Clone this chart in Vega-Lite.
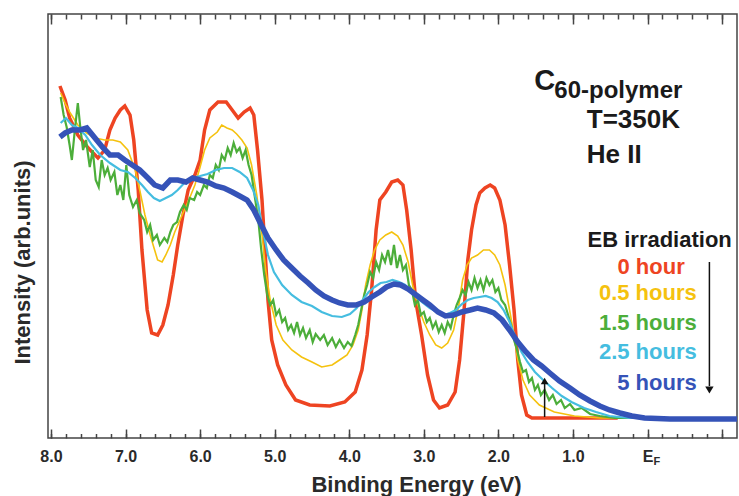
{
  "$schema": "https://vega.github.io/schema/vega-lite/v6.json",
  "width": 689,
  "height": 424,
  "autosize": {"type": "none"},
  "padding": {"left": 48, "top": 14, "right": 2, "bottom": 58},
  "background": "white",
  "config": {
    "view": {"stroke": "#444", "strokeWidth": 1.5},
    "font": "Liberation Sans, sans-serif",
    "text": {"font": "Liberation Sans, sans-serif", "fontWeight": "bold", "color": "#1a1a1a"},
    "axis": {"labelFont": "Liberation Sans, sans-serif", "titleFont": "Liberation Sans, sans-serif", "labelFontWeight": "bold", "titleFontWeight": "bold", "labelColor": "#2a2a2a", "titleColor": "#2a2a2a", "tickColor": "#444", "domain": false, "grid": false}
  },
  "resolve": {"axis": {"x": "independent", "y": "independent"}},
  "data": {"values": [{}]},
  "datasets": {
    "h0": [{"x":7.88,"y":352},{"x":7.81,"y":338},{"x":7.75,"y":320},{"x":7.64,"y":303},{"x":7.5,"y":290},{"x":7.37,"y":280},{"x":7.28,"y":288},{"x":7.21,"y":308},{"x":7.14,"y":320},{"x":7.07,"y":328},{"x":7.01,"y":332},{"x":6.94,"y":323},{"x":6.89,"y":298},{"x":6.83,"y":248},{"x":6.78,"y":188},{"x":6.71,"y":128},{"x":6.65,"y":105},{"x":6.57,"y":103},{"x":6.5,"y":113},{"x":6.43,"y":133},{"x":6.36,"y":163},{"x":6.3,"y":193},{"x":6.23,"y":223},{"x":6.16,"y":248},{"x":6.07,"y":263},{"x":6.0,"y":278},{"x":5.94,"y":308},{"x":5.87,"y":328},{"x":5.76,"y":336},{"x":5.65,"y":336},{"x":5.57,"y":328},{"x":5.49,"y":320},{"x":5.41,"y":326},{"x":5.33,"y":330},{"x":5.28,"y":323},{"x":5.23,"y":288},{"x":5.17,"y":238},{"x":5.13,"y":188},{"x":5.09,"y":138},{"x":5.04,"y":98},{"x":4.96,"y":73},{"x":4.85,"y":53},{"x":4.72,"y":38},{"x":4.53,"y":33},{"x":4.26,"y":32},{"x":4.06,"y":36},{"x":3.92,"y":46},{"x":3.83,"y":68},{"x":3.76,"y":103},{"x":3.7,"y":148},{"x":3.64,"y":208},{"x":3.59,"y":238},{"x":3.51,"y":246},{"x":3.43,"y":256},{"x":3.35,"y":258},{"x":3.28,"y":253},{"x":3.23,"y":228},{"x":3.17,"y":188},{"x":3.11,"y":138},{"x":3.03,"y":103},{"x":2.95,"y":63},{"x":2.87,"y":38},{"x":2.79,"y":30},{"x":2.68,"y":33},{"x":2.58,"y":46},{"x":2.52,"y":78},{"x":2.46,"y":128},{"x":2.41,"y":178},{"x":2.36,"y":208},{"x":2.3,"y":233},{"x":2.25,"y":245},{"x":2.18,"y":250},{"x":2.11,"y":253},{"x":2.05,"y":250},{"x":1.98,"y":238},{"x":1.91,"y":213},{"x":1.85,"y":173},{"x":1.79,"y":128},{"x":1.74,"y":78},{"x":1.69,"y":43},{"x":1.62,"y":23},{"x":1.55,"y":20},{"x":1.0,"y":20},{"x":0.4,"y":20}],
    "h05": [{"x":7.87,"y":345},{"x":7.8,"y":333},{"x":7.75,"y":326},{"x":7.64,"y":313},{"x":7.52,"y":305},{"x":7.41,"y":300},{"x":7.28,"y":298},{"x":7.17,"y":298},{"x":7.07,"y":296},{"x":6.97,"y":288},{"x":6.87,"y":268},{"x":6.81,"y":248},{"x":6.74,"y":223},{"x":6.67,"y":203},{"x":6.61,"y":188},{"x":6.57,"y":178},{"x":6.51,"y":176},{"x":6.46,"y":183},{"x":6.4,"y":193},{"x":6.34,"y":206},{"x":6.27,"y":218},{"x":6.2,"y":230},{"x":6.14,"y":240},{"x":6.07,"y":253},{"x":6.0,"y":271},{"x":5.94,"y":288},{"x":5.87,"y":300},{"x":5.77,"y":306},{"x":5.71,"y":313},{"x":5.64,"y":310},{"x":5.57,"y":308},{"x":5.51,"y":304},{"x":5.44,"y":298},{"x":5.37,"y":290},{"x":5.31,"y":273},{"x":5.24,"y":243},{"x":5.17,"y":203},{"x":5.12,"y":168},{"x":5.06,"y":138},{"x":4.98,"y":113},{"x":4.89,"y":98},{"x":4.77,"y":88},{"x":4.64,"y":81},{"x":4.5,"y":76},{"x":4.37,"y":71},{"x":4.23,"y":73},{"x":4.13,"y":78},{"x":4.03,"y":83},{"x":3.95,"y":93},{"x":3.88,"y":108},{"x":3.83,"y":128},{"x":3.78,"y":153},{"x":3.72,"y":173},{"x":3.66,"y":188},{"x":3.59,"y":198},{"x":3.51,"y":203},{"x":3.43,"y":206},{"x":3.35,"y":202},{"x":3.28,"y":193},{"x":3.21,"y":176},{"x":3.15,"y":153},{"x":3.08,"y":133},{"x":3.0,"y":116},{"x":2.92,"y":103},{"x":2.84,"y":93},{"x":2.76,"y":90},{"x":2.68,"y":95},{"x":2.6,"y":108},{"x":2.53,"y":133},{"x":2.48,"y":158},{"x":2.42,"y":173},{"x":2.36,"y":180},{"x":2.28,"y":183},{"x":2.2,"y":188},{"x":2.12,"y":188},{"x":2.05,"y":183},{"x":1.98,"y":173},{"x":1.91,"y":153},{"x":1.85,"y":128},{"x":1.79,"y":103},{"x":1.74,"y":78},{"x":1.67,"y":58},{"x":1.58,"y":43},{"x":1.45,"y":33},{"x":1.25,"y":26},{"x":0.98,"y":22},{"x":0.64,"y":20},{"x":0.1,"y":20}],
    "h15": [{"x":7.87,"y":341},{"x":7.83,"y":323},{"x":7.79,"y":311},{"x":7.75,"y":293},{"x":7.72,"y":278},{"x":7.68,"y":308},{"x":7.64,"y":335},{"x":7.61,"y":313},{"x":7.57,"y":288},{"x":7.53,"y":298},{"x":7.48,"y":271},{"x":7.44,"y":288},{"x":7.4,"y":258},{"x":7.36,"y":251},{"x":7.32,"y":278},{"x":7.28,"y":263},{"x":7.24,"y":270},{"x":7.2,"y":258},{"x":7.15,"y":266},{"x":7.11,"y":243},{"x":7.07,"y":253},{"x":7.03,"y":238},{"x":6.99,"y":273},{"x":6.95,"y":243},{"x":6.9,"y":231},{"x":6.85,"y":238},{"x":6.81,"y":225},{"x":6.75,"y":218},{"x":6.71,"y":206},{"x":6.67,"y":213},{"x":6.63,"y":198},{"x":6.58,"y":203},{"x":6.54,"y":193},{"x":6.48,"y":200},{"x":6.44,"y":196},{"x":6.4,"y":206},{"x":6.36,"y":213},{"x":6.31,"y":216},{"x":6.27,"y":226},{"x":6.22,"y":233},{"x":6.18,"y":228},{"x":6.14,"y":240},{"x":6.08,"y":238},{"x":6.04,"y":246},{"x":6.0,"y":243},{"x":5.95,"y":253},{"x":5.91,"y":250},{"x":5.87,"y":263},{"x":5.83,"y":260},{"x":5.79,"y":273},{"x":5.75,"y":268},{"x":5.71,"y":283},{"x":5.67,"y":278},{"x":5.63,"y":290},{"x":5.59,"y":283},{"x":5.55,"y":295},{"x":5.51,"y":286},{"x":5.47,"y":290},{"x":5.43,"y":280},{"x":5.39,"y":288},{"x":5.35,"y":273},{"x":5.31,"y":263},{"x":5.27,"y":243},{"x":5.22,"y":218},{"x":5.18,"y":188},{"x":5.14,"y":163},{"x":5.1,"y":143},{"x":5.06,"y":133},{"x":5.02,"y":138},{"x":4.98,"y":123},{"x":4.94,"y":128},{"x":4.9,"y":116},{"x":4.86,"y":120},{"x":4.82,"y":108},{"x":4.78,"y":113},{"x":4.74,"y":105},{"x":4.7,"y":116},{"x":4.66,"y":103},{"x":4.62,"y":110},{"x":4.58,"y":100},{"x":4.53,"y":108},{"x":4.49,"y":96},{"x":4.45,"y":104},{"x":4.39,"y":98},{"x":4.34,"y":103},{"x":4.29,"y":93},{"x":4.23,"y":100},{"x":4.18,"y":91},{"x":4.13,"y":98},{"x":4.07,"y":90},{"x":4.02,"y":96},{"x":3.97,"y":92},{"x":3.92,"y":103},{"x":3.88,"y":113},{"x":3.84,"y":128},{"x":3.8,"y":143},{"x":3.76,"y":153},{"x":3.72,"y":166},{"x":3.68,"y":160},{"x":3.64,"y":176},{"x":3.6,"y":168},{"x":3.56,"y":183},{"x":3.52,"y":176},{"x":3.48,"y":188},{"x":3.44,"y":173},{"x":3.4,"y":193},{"x":3.36,"y":170},{"x":3.32,"y":183},{"x":3.28,"y":168},{"x":3.24,"y":173},{"x":3.2,"y":153},{"x":3.16,"y":148},{"x":3.12,"y":133},{"x":3.08,"y":138},{"x":3.04,"y":123},{"x":3.0,"y":126},{"x":2.96,"y":116},{"x":2.92,"y":120},{"x":2.88,"y":110},{"x":2.84,"y":116},{"x":2.8,"y":106},{"x":2.76,"y":113},{"x":2.72,"y":105},{"x":2.68,"y":116},{"x":2.64,"y":110},{"x":2.6,"y":123},{"x":2.56,"y":133},{"x":2.52,"y":140},{"x":2.48,"y":148},{"x":2.44,"y":143},{"x":2.4,"y":156},{"x":2.36,"y":148},{"x":2.32,"y":160},{"x":2.28,"y":150},{"x":2.24,"y":158},{"x":2.2,"y":148},{"x":2.16,"y":160},{"x":2.12,"y":153},{"x":2.08,"y":158},{"x":2.04,"y":146},{"x":2.0,"y":150},{"x":1.96,"y":138},{"x":1.91,"y":133},{"x":1.87,"y":123},{"x":1.83,"y":113},{"x":1.79,"y":98},{"x":1.75,"y":88},{"x":1.71,"y":76},{"x":1.67,"y":66},{"x":1.63,"y":68},{"x":1.59,"y":56},{"x":1.55,"y":60},{"x":1.51,"y":48},{"x":1.47,"y":53},{"x":1.43,"y":43},{"x":1.38,"y":48},{"x":1.32,"y":38},{"x":1.27,"y":43},{"x":1.22,"y":34},{"x":1.16,"y":38},{"x":1.11,"y":30},{"x":1.04,"y":34},{"x":0.98,"y":28},{"x":0.88,"y":30},{"x":0.77,"y":24},{"x":0.64,"y":22},{"x":0.44,"y":20},{"x":0.1,"y":20}],
    "h25": [{"x":7.87,"y":315},{"x":7.8,"y":320},{"x":7.72,"y":313},{"x":7.64,"y":310},{"x":7.54,"y":303},{"x":7.45,"y":293},{"x":7.34,"y":283},{"x":7.21,"y":275},{"x":7.07,"y":268},{"x":6.97,"y":266},{"x":6.87,"y":260},{"x":6.78,"y":253},{"x":6.7,"y":246},{"x":6.62,"y":240},{"x":6.54,"y":237},{"x":6.46,"y":240},{"x":6.38,"y":243},{"x":6.3,"y":248},{"x":6.2,"y":256},{"x":6.11,"y":260},{"x":6.0,"y":262},{"x":5.9,"y":264},{"x":5.79,"y":268},{"x":5.68,"y":270},{"x":5.57,"y":270},{"x":5.47,"y":266},{"x":5.37,"y":260},{"x":5.29,"y":248},{"x":5.22,"y":233},{"x":5.16,"y":208},{"x":5.09,"y":183},{"x":5.01,"y":166},{"x":4.9,"y":153},{"x":4.77,"y":143},{"x":4.64,"y":136},{"x":4.5,"y":132},{"x":4.37,"y":126},{"x":4.23,"y":122},{"x":4.1,"y":121},{"x":3.99,"y":124},{"x":3.9,"y":130},{"x":3.82,"y":138},{"x":3.74,"y":146},{"x":3.66,"y":151},{"x":3.58,"y":155},{"x":3.5,"y":156},{"x":3.42,"y":158},{"x":3.33,"y":156},{"x":3.25,"y":153},{"x":3.17,"y":146},{"x":3.09,"y":140},{"x":3.01,"y":135},{"x":2.92,"y":130},{"x":2.82,"y":126},{"x":2.73,"y":123},{"x":2.65,"y":125},{"x":2.57,"y":128},{"x":2.49,"y":134},{"x":2.41,"y":138},{"x":2.33,"y":140},{"x":2.25,"y":141},{"x":2.17,"y":142},{"x":2.09,"y":140},{"x":2.01,"y":136},{"x":1.93,"y":128},{"x":1.85,"y":116},{"x":1.77,"y":100},{"x":1.69,"y":86},{"x":1.61,"y":76},{"x":1.51,"y":66},{"x":1.4,"y":58},{"x":1.28,"y":50},{"x":1.15,"y":42},{"x":1.02,"y":36},{"x":0.85,"y":30},{"x":0.69,"y":26},{"x":0.51,"y":22},{"x":0.24,"y":20},{"x":0.0,"y":20}],
    "h5": [{"x":7.88,"y":301},{"x":7.81,"y":305},{"x":7.72,"y":308},{"x":7.61,"y":308},{"x":7.52,"y":310},{"x":7.41,"y":300},{"x":7.3,"y":290},{"x":7.21,"y":283},{"x":7.1,"y":283},{"x":7.01,"y":278},{"x":6.91,"y":273},{"x":6.81,"y":268},{"x":6.7,"y":260},{"x":6.61,"y":253},{"x":6.5,"y":250},{"x":6.4,"y":258},{"x":6.3,"y":258},{"x":6.19,"y":256},{"x":6.1,"y":260},{"x":6.0,"y":258},{"x":5.9,"y":256},{"x":5.79,"y":252},{"x":5.68,"y":250},{"x":5.57,"y":246},{"x":5.47,"y":242},{"x":5.37,"y":238},{"x":5.28,"y":228},{"x":5.18,"y":213},{"x":5.09,"y":200},{"x":4.98,"y":188},{"x":4.88,"y":178},{"x":4.77,"y":170},{"x":4.66,"y":162},{"x":4.55,"y":155},{"x":4.45,"y":148},{"x":4.34,"y":142},{"x":4.23,"y":138},{"x":4.13,"y":135},{"x":4.02,"y":133},{"x":3.91,"y":133},{"x":3.8,"y":136},{"x":3.7,"y":141},{"x":3.59,"y":146},{"x":3.5,"y":151},{"x":3.4,"y":154},{"x":3.31,"y":153},{"x":3.21,"y":149},{"x":3.12,"y":144},{"x":3.03,"y":139},{"x":2.92,"y":133},{"x":2.81,"y":126},{"x":2.71,"y":122},{"x":2.6,"y":123},{"x":2.49,"y":126},{"x":2.38,"y":128},{"x":2.28,"y":130},{"x":2.17,"y":128},{"x":2.06,"y":125},{"x":1.95,"y":118},{"x":1.85,"y":108},{"x":1.74,"y":96},{"x":1.63,"y":86},{"x":1.53,"y":78},{"x":1.42,"y":72},{"x":1.31,"y":65},{"x":1.18,"y":57},{"x":1.04,"y":50},{"x":0.91,"y":43},{"x":0.77,"y":37},{"x":0.64,"y":32},{"x":0.51,"y":28},{"x":0.37,"y":25},{"x":0.21,"y":22},{"x":0.04,"y":20},{"x":-0.3,"y":19},{"x":-0.7,"y":19},{"x":-1.2,"y":19}]
  },
  "layer": [
    {
      "data": {"name": "h0"},
      "mark": {"type": "line", "color": "#ee4422", "strokeWidth": 3.5},
      "encoding": {
        "x": {"field": "x", "type": "quantitative", "scale": {"domain": [-1.2, 8.04], "reverse": true, "nice": false, "zero": false},
          "axis": {"orient": "bottom", "values": [8, 7, 6, 5, 4, 3, 2, 1, 0, -1], "labelExpr": "datum.value == 0 ? 'E' : (datum.value < 0 ? '' : format(datum.value, '.1f'))", "tickSize": -9, "tickWidth": 1.5, "labelPadding": 19, "labelFontSize": 16, "title": "Binding Energy (eV)", "titleFontSize": 22, "titleX": 368, "titleY": 53, "titleBaseline": "alphabetic", "titleAlign": "center"}},
        "y": {"field": "y", "type": "quantitative", "scale": {"domain": [0, 424], "nice": false, "zero": false},
          "axis": {"orient": "left", "ticks": false, "labels": false, "title": "Intensity (arb.units)", "titleFontSize": 22, "titleAngle": 270, "titleX": -26, "titleY": 248, "titleAlign": "center", "titleBaseline": "middle"}}
      }
    },
    {
      "data": {"name": "h05"},
      "mark": {"type": "line", "color": "#f5c20f", "strokeWidth": 1.6},
      "encoding": {
        "x": {"field": "x", "type": "quantitative", "scale": {"domain": [-1.2, 8.04], "reverse": true, "nice": false, "zero": false},
          "axis": {"orient": "bottom", "values": [8, 7.8, 7.6, 7.4, 7.2, 7, 6.8, 6.6, 6.4, 6.2, 6, 5.8, 5.6, 5.4, 5.2, 5, 4.8, 4.6, 4.4, 4.2, 4, 3.8, 3.6, 3.4, 3.2, 3, 2.8, 2.6, 2.4, 2.2, 2, 1.8, 1.6, 1.4, 1.2, 1, 0.8, 0.6, 0.4, 0.2, 0, -0.2, -0.4, -0.6, -0.8, -1], "labels": false, "tickSize": -4.5, "tickWidth": 1.5, "title": null}},
        "y": {"field": "y", "type": "quantitative", "scale": {"domain": [0, 424], "nice": false, "zero": false}, "axis": null}
      }
    },
    {
      "data": {"name": "h15"},
      "mark": {"type": "line", "color": "#4cae3a", "strokeWidth": 2.2},
      "encoding": {
        "x": {"field": "x", "type": "quantitative", "scale": {"domain": [-1.2, 8.04], "reverse": true, "nice": false, "zero": false},
          "axis": {"orient": "top", "values": [8, 7, 6, 5, 4, 3, 2, 1, 0, -1], "labels": false, "tickSize": -10, "tickWidth": 1.5, "title": null}},
        "y": {"field": "y", "type": "quantitative", "scale": {"domain": [0, 424], "nice": false, "zero": false}, "axis": null}
      }
    },
    {
      "data": {"name": "h25"},
      "mark": {"type": "line", "color": "#45bde0", "strokeWidth": 2.2},
      "encoding": {
        "x": {"field": "x", "type": "quantitative", "scale": {"domain": [-1.2, 8.04], "reverse": true, "nice": false, "zero": false},
          "axis": {"orient": "top", "values": [8, 7.8, 7.6, 7.4, 7.2, 7, 6.8, 6.6, 6.4, 6.2, 6, 5.8, 5.6, 5.4, 5.2, 5, 4.8, 4.6, 4.4, 4.2, 4, 3.8, 3.6, 3.4, 3.2, 3, 2.8, 2.6, 2.4, 2.2, 2, 1.8, 1.6, 1.4, 1.2, 1, 0.8, 0.6, 0.4, 0.2, 0, -0.2, -0.4, -0.6, -0.8, -1], "labels": false, "tickSize": -5, "tickWidth": 1.5, "title": null}},
        "y": {"field": "y", "type": "quantitative", "scale": {"domain": [0, 424], "nice": false, "zero": false}, "axis": null}
      }
    },
    {
      "data": {"name": "h5"},
      "mark": {"type": "line", "color": "#3553b8", "strokeWidth": 5.5},
      "encoding": {
        "x": {"field": "x", "type": "quantitative", "scale": {"domain": [-1.2, 8.04], "reverse": true, "nice": false, "zero": false}, "axis": null},
        "y": {"field": "y", "type": "quantitative", "scale": {"domain": [0, 424], "nice": false, "zero": false}, "axis": null}
      }
    },
    {"mark": {"type": "text", "text": "F", "fontSize": 11, "align": "left", "baseline": "alphabetic", "dx": 6, "color": "#2a2a2a"},
     "encoding": {"x": {"datum": 0, "axis": null}, "y": {"datum": -27, "axis": null}}},
    {"mark": {"type": "text", "text": "C", "fontSize": 29, "align": "left", "baseline": "alphabetic"},
     "encoding": {"x": {"datum": 1.52, "axis": null}, "y": {"datum": 348, "axis": null}}},
    {"mark": {"type": "text", "text": "60-polymer", "fontSize": 24, "align": "left", "baseline": "alphabetic"},
     "encoding": {"x": {"datum": 1.25, "axis": null}, "y": {"datum": 340, "axis": null}}},
    {"mark": {"type": "text", "text": "T=350K", "fontSize": 26, "align": "left", "baseline": "alphabetic"},
     "encoding": {"x": {"datum": 0.815, "axis": null}, "y": {"datum": 310, "axis": null}}},
    {"mark": {"type": "text", "text": "He II", "fontSize": 26, "align": "left", "baseline": "alphabetic"},
     "encoding": {"x": {"datum": 0.815, "axis": null}, "y": {"datum": 275, "axis": null}}},
    {"mark": {"type": "text", "text": "EB irradiation", "fontSize": 22, "align": "right", "baseline": "middle"},
     "encoding": {"x": {"datum": -1.13, "axis": null}, "y": {"datum": 198, "axis": null}}},
    {"mark": {"type": "text", "text": "0 hour", "fontSize": 22, "align": "right", "baseline": "middle", "color": "#ee4422", "dx": -12},
     "encoding": {"x": {"datum": -0.66, "axis": null}, "y": {"datum": 171, "axis": null}}},
    {"mark": {"type": "text", "text": "0.5 hours", "fontSize": 22, "align": "right", "baseline": "middle", "color": "#f5c20f"},
     "encoding": {"x": {"datum": -0.66, "axis": null}, "y": {"datum": 145, "axis": null}}},
    {"mark": {"type": "text", "text": "1.5 hours", "fontSize": 22, "align": "right", "baseline": "middle", "color": "#4cae3a"},
     "encoding": {"x": {"datum": -0.66, "axis": null}, "y": {"datum": 115, "axis": null}}},
    {"mark": {"type": "text", "text": "2.5 hours", "fontSize": 22, "align": "right", "baseline": "middle", "color": "#45bde0"},
     "encoding": {"x": {"datum": -0.66, "axis": null}, "y": {"datum": 86, "axis": null}}},
    {"mark": {"type": "text", "text": "5 hours", "fontSize": 22, "align": "right", "baseline": "middle", "color": "#3553b8"},
     "encoding": {"x": {"datum": -0.66, "axis": null}, "y": {"datum": 55, "axis": null}}},
    {"mark": {"type": "rule", "color": "#111", "strokeWidth": 1.5},
     "encoding": {"x": {"datum": -0.83, "axis": null}, "y": {"datum": 176, "axis": null}, "y2": {"datum": 52}}},
    {"mark": {"type": "point", "shape": "triangle-down", "filled": true, "color": "#111", "size": 70, "opacity": 1},
     "encoding": {"x": {"datum": -0.83, "axis": null}, "y": {"datum": 48, "axis": null}}},
    {"mark": {"type": "rule", "color": "#111", "strokeWidth": 1.5},
     "encoding": {"x": {"datum": 1.38, "axis": null}, "y": {"datum": 21, "axis": null}, "y2": {"datum": 55}}},
    {"mark": {"type": "point", "shape": "triangle-up", "filled": true, "color": "#111", "size": 60, "opacity": 1},
     "encoding": {"x": {"datum": 1.38, "axis": null}, "y": {"datum": 57, "axis": null}}}
  ]
}
